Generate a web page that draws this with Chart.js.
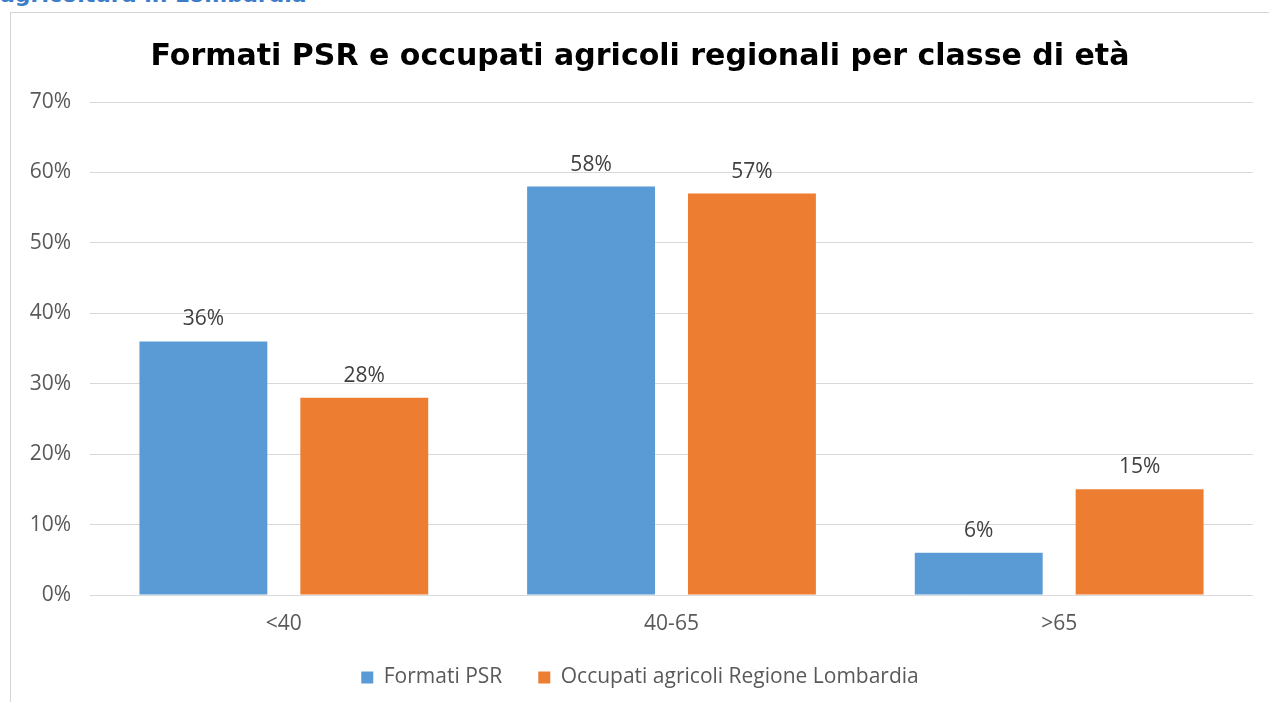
<!DOCTYPE html>
<html>
<head>
<meta charset="utf-8">
<script src="https://cdn.jsdelivr.net/npm/chart.js@4"></script>
<style>
  body { margin: 0; background: #fff; overflow: hidden; }
  #head {
    position: absolute; left: 0; top: -18px;
    font: bold 22px "DejaVu Sans", sans-serif; color: #3d7cc9;
  }
  #box {
    position: absolute; left: 10px; top: 12px; width: 1259px; height: 690px;
    border-left: 1px solid #d4d4d4; border-top: 1px solid #d4d4d4;
    box-sizing: border-box;
  }
</style>
</head>
<body>
<div id="head">agricoltura in Lombardia</div>
<div id="box"><canvas id="myChart"></canvas></div>
<script>
// chart values
const categories = ['<40', '40-65', '>65'];
const formatiPSR = [36, 58, 6];
const occupatiLombardia = [28, 57, 15];
const seriesNames = ['Formati PSR', 'Occupati agricoli Regione Lombardia'];
const yTicks = [0, 10, 20, 30, 40, 50, 60, 70];

const tickFont = { family: '"Open Sans", sans-serif', size: 21 };

// draws the "36%" labels above the bars
const barLabels = {
    id: 'barLabels',
    afterDatasetsDraw(chart) {
        const ctx = chart.ctx;
        ctx.save();
        ctx.font = '21px "Open Sans", sans-serif';
        ctx.fillStyle = '#404040';
        ctx.textAlign = 'center';
        ctx.textBaseline = 'alphabetic';
        chart.data.datasets.forEach(function(ds, i) {
            chart.getDatasetMeta(i).data.forEach(function(bar, j) {
                ctx.fillText(ds.data[j] + '%', bar.x, bar.y - 16);
            });
        });
        ctx.restore();
    }
};

const myChart = new Chart(document.getElementById('myChart'), {
    type: 'bar',
    data: {
        labels: categories,
        datasets: [{
            label: seriesNames[0],
            data: formatiPSR,
            backgroundColor: '#5b9bd5'
        }, {
            label: seriesNames[1],
            data: occupatiLombardia,
            backgroundColor: '#ed7d31'
        }]
    },
    options: {
        responsive: true,
        maintainAspectRatio: false,
        animation: false,
        categoryPercentage: 0.83,
        barPercentage: 0.795,
        layout: { padding: { left: 16, right: 16, top: 10, bottom: 4 } },
        plugins: {
            title: {
                display: true,
                text: 'Formati PSR e occupati agricoli regionali per classe di età',
                color: '#000',
                font: { family: '"DejaVu Sans", sans-serif', size: 30, weight: 'bold' },
                padding: { top: 16, bottom: 27 }
            },
            legend: {
                position: 'bottom',
                labels: {
                    color: '#595959',
                    font: { family: '"Open Sans", sans-serif', size: 21 },
                    boxWidth: 12,
                    boxHeight: 12,
                    padding: 36
                }
            },
            tooltip: { enabled: false }
        },
        scales: {
            x: {
                grid: { display: false },
                border: { display: false },
                ticks: { color: '#595959', font: tickFont, padding: 8 },
                afterFit(axis) { axis.height = 36; }
            },
            y: {
                min: 0,
                max: 70,
                afterBuildTicks(axis) {
                    axis.ticks = yTicks.map(v => ({ value: v }));
                },
                afterFit(axis) { axis.width = 63; },
                grid: { color: '#d9d9d9', drawTicks: false },
                border: { display: false },
                ticks: {
                    color: '#595959',
                    font: tickFont,
                    padding: 19,
                    callback: v => v + '%'
                }
            }
        }
    },
    plugins: [barLabels]
});
</script>
</body>
</html>
